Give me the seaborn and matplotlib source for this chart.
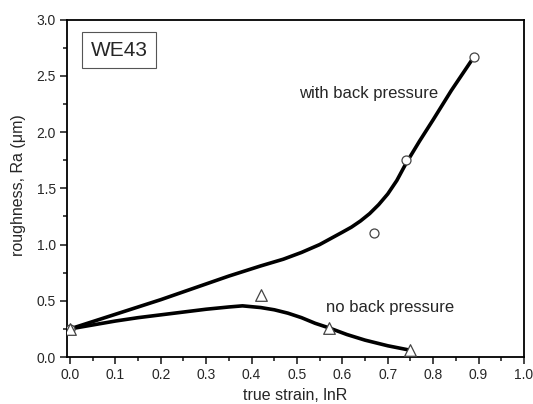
import numpy as np
import pandas as pd
import seaborn as sns
import matplotlib.pyplot as plt

# measured points
bp_x = [0.0, 0.67, 0.74, 0.89]
bp_y = [0.25, 1.10, 1.75, 2.67]
nbp_x = [0.0, 0.42, 0.57, 0.75]
nbp_y = [0.25, 0.55, 0.255, 0.06]

# fitted curves
bp_fit_x = [0.0, 0.05, 0.10, 0.15, 0.20, 0.25, 0.30, 0.35, 0.42, 0.47, 0.51,
            0.55, 0.60, 0.62, 0.64, 0.66, 0.68, 0.70, 0.72, 0.74, 0.77, 0.80, 0.84, 0.89]
bp_fit_y = [0.25, 0.315, 0.38, 0.445, 0.51, 0.58, 0.65, 0.72, 0.81, 0.87, 0.93,
            1.00, 1.11, 1.155, 1.21, 1.275, 1.355, 1.45, 1.57, 1.72, 1.92, 2.11, 2.37, 2.67]
nbp_fit_x = [0.0, 0.05, 0.10, 0.15, 0.20, 0.25, 0.30, 0.35, 0.38, 0.42, 0.45,
             0.48, 0.51, 0.54, 0.57, 0.61, 0.65, 0.70, 0.75]
nbp_fit_y = [0.25, 0.285, 0.32, 0.35, 0.375, 0.40, 0.425, 0.445, 0.455, 0.44, 0.42,
             0.39, 0.35, 0.30, 0.26, 0.20, 0.15, 0.10, 0.06]

sns.set_style("ticks")
plt.rcParams['font.family'] = ['Liberation Sans', 'DejaVu Sans']

fig = plt.figure(figsize=(5.33, 4.04), dpi=100)
ax = fig.add_axes([0.1257, 0.1163, 0.8573, 0.8350])

sns.lineplot(x=bp_fit_x, y=bp_fit_y, ax=ax, color='black', linewidth=2.6, sort=False)
sns.lineplot(x=nbp_fit_x, y=nbp_fit_y, ax=ax, color='black', linewidth=2.6, sort=False)
sns.scatterplot(x=bp_x, y=bp_y, ax=ax, marker='o', s=42, facecolor='white',
                edgecolor='#444444', linewidth=0.9, zorder=5)
sns.scatterplot(x=nbp_x, y=nbp_y, ax=ax, marker='^', s=70, facecolor='white',
                edgecolor='#444444', linewidth=0.9, zorder=5)

ax.text(0.504, 2.34, 'with back pressure', fontsize=12, va='center', ha='left')
ax.text(0.564, 0.436, 'no back pressure', fontsize=12, va='center', ha='left')
ax.text(0.108, 2.73, 'WE43', fontsize=15, va='center', ha='center',
        bbox=dict(boxstyle='square,pad=0.4', facecolor='white', edgecolor='#555555', linewidth=0.8))

ax.set_xlim(-0.0066, 1.0)
ax.set_ylim(0, 3.0)
ax.set_xticks(np.arange(0, 1.01, 0.1))
ax.set_xticks(np.arange(0.05, 1.0, 0.1), minor=True)
ax.set_yticks(np.arange(0, 3.01, 0.5))
ax.set_yticks(np.arange(0.25, 3.0, 0.5), minor=True)
ax.xaxis.set_major_formatter(plt.FormatStrFormatter('%.1f'))
ax.yaxis.set_major_formatter(plt.FormatStrFormatter('%.1f'))
ax.tick_params(axis='both', which='major', direction='out', length=5, width=1.2, labelsize=10, pad=3)
ax.tick_params(axis='both', which='minor', direction='out', length=3, width=1.2)
for s in ax.spines.values():
    s.set_linewidth(1.3)
    s.set_color('black')

ax.set_xlabel('true strain, lnR', fontsize=11.5, labelpad=4)
ax.set_ylabel('roughness, Ra (\u03bcm)', fontsize=11.5)
ax.yaxis.set_label_coords(-0.090, 0.51)

fig.savefig('out.png', dpi=100)
